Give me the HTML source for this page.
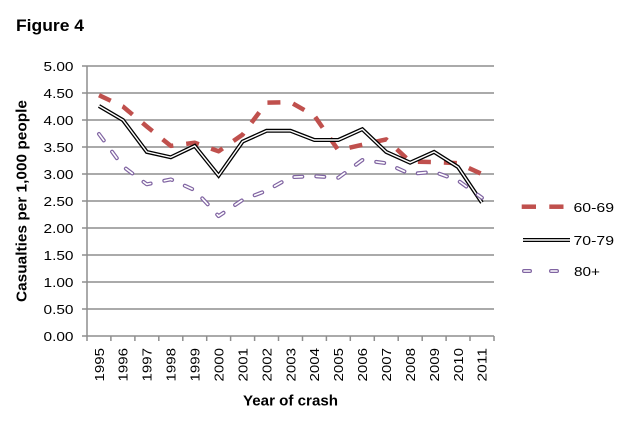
<!DOCTYPE html>
<html><head><meta charset="utf-8"><style>
html,body{margin:0;padding:0;background:#fff;}
svg{display:block;}
text{font-family:"Liberation Sans",sans-serif;fill:#000;}
</style></head><body>
<svg width="642" height="423" viewBox="0 0 642 423" xmlns="http://www.w3.org/2000/svg">
<rect width="642" height="423" fill="#fff"/>
<text x="16" y="31" font-size="17" font-weight="bold" textLength="68" lengthAdjust="spacingAndGlyphs">Figure 4</text>

<g stroke="#8e8e8e" stroke-width="1.5" fill="none">
<line x1="82" y1="66" x2="494" y2="66"/>
<line x1="82" y1="93" x2="494" y2="93"/>
<line x1="82" y1="120" x2="494" y2="120"/>
<line x1="82" y1="147" x2="494" y2="147"/>
<line x1="82" y1="174" x2="494" y2="174"/>
<line x1="82" y1="201" x2="494" y2="201"/>
<line x1="82" y1="228" x2="494" y2="228"/>
<line x1="82" y1="255" x2="494" y2="255"/>
<line x1="82" y1="282" x2="494" y2="282"/>
<line x1="82" y1="309" x2="494" y2="309"/>
<line x1="82" y1="336" x2="494" y2="336"/>
<line x1="87" y1="66" x2="87" y2="336"/>
<line x1="87" y1="336" x2="87" y2="341"/>
<line x1="110.9" y1="336" x2="110.9" y2="341"/>
<line x1="134.9" y1="336" x2="134.9" y2="341"/>
<line x1="158.8" y1="336" x2="158.8" y2="341"/>
<line x1="182.8" y1="336" x2="182.8" y2="341"/>
<line x1="206.7" y1="336" x2="206.7" y2="341"/>
<line x1="230.6" y1="336" x2="230.6" y2="341"/>
<line x1="254.6" y1="336" x2="254.6" y2="341"/>
<line x1="278.5" y1="336" x2="278.5" y2="341"/>
<line x1="302.5" y1="336" x2="302.5" y2="341"/>
<line x1="326.4" y1="336" x2="326.4" y2="341"/>
<line x1="350.3" y1="336" x2="350.3" y2="341"/>
<line x1="374.3" y1="336" x2="374.3" y2="341"/>
<line x1="398.2" y1="336" x2="398.2" y2="341"/>
<line x1="422.2" y1="336" x2="422.2" y2="341"/>
<line x1="446.1" y1="336" x2="446.1" y2="341"/>
<line x1="470.0" y1="336" x2="470.0" y2="341"/>
<line x1="494" y1="336" x2="494" y2="341"/>
</g>

<g font-size="13.2" text-anchor="end">
<text x="73.5" y="70.8" textLength="30" lengthAdjust="spacingAndGlyphs">5.00</text>
<text x="73.5" y="97.8" textLength="30" lengthAdjust="spacingAndGlyphs">4.50</text>
<text x="73.5" y="124.8" textLength="30" lengthAdjust="spacingAndGlyphs">4.00</text>
<text x="73.5" y="151.8" textLength="30" lengthAdjust="spacingAndGlyphs">3.50</text>
<text x="73.5" y="178.8" textLength="30" lengthAdjust="spacingAndGlyphs">3.00</text>
<text x="73.5" y="205.8" textLength="30" lengthAdjust="spacingAndGlyphs">2.50</text>
<text x="73.5" y="232.8" textLength="30" lengthAdjust="spacingAndGlyphs">2.00</text>
<text x="73.5" y="259.8" textLength="30" lengthAdjust="spacingAndGlyphs">1.50</text>
<text x="73.5" y="286.8" textLength="30" lengthAdjust="spacingAndGlyphs">1.00</text>
<text x="73.5" y="313.8" textLength="30" lengthAdjust="spacingAndGlyphs">0.50</text>
<text x="73.5" y="340.8" textLength="30" lengthAdjust="spacingAndGlyphs">0.00</text>
</g>

<g font-size="13.2" text-anchor="end">
<text transform="translate(103.8,348) rotate(-90)" textLength="33.5" lengthAdjust="spacingAndGlyphs">1995</text>
<text transform="translate(127.7,348) rotate(-90)" textLength="33.5" lengthAdjust="spacingAndGlyphs">1996</text>
<text transform="translate(151.6,348) rotate(-90)" textLength="33.5" lengthAdjust="spacingAndGlyphs">1997</text>
<text transform="translate(175.6,348) rotate(-90)" textLength="33.5" lengthAdjust="spacingAndGlyphs">1998</text>
<text transform="translate(199.5,348) rotate(-90)" textLength="33.5" lengthAdjust="spacingAndGlyphs">1999</text>
<text transform="translate(223.4,348) rotate(-90)" textLength="33.5" lengthAdjust="spacingAndGlyphs">2000</text>
<text transform="translate(247.4,348) rotate(-90)" textLength="33.5" lengthAdjust="spacingAndGlyphs">2001</text>
<text transform="translate(271.3,348) rotate(-90)" textLength="33.5" lengthAdjust="spacingAndGlyphs">2002</text>
<text transform="translate(295.3,348) rotate(-90)" textLength="33.5" lengthAdjust="spacingAndGlyphs">2003</text>
<text transform="translate(319.2,348) rotate(-90)" textLength="33.5" lengthAdjust="spacingAndGlyphs">2004</text>
<text transform="translate(343.1,348) rotate(-90)" textLength="33.5" lengthAdjust="spacingAndGlyphs">2005</text>
<text transform="translate(367.1,348) rotate(-90)" textLength="33.5" lengthAdjust="spacingAndGlyphs">2006</text>
<text transform="translate(391.0,348) rotate(-90)" textLength="33.5" lengthAdjust="spacingAndGlyphs">2007</text>
<text transform="translate(414.9,348) rotate(-90)" textLength="33.5" lengthAdjust="spacingAndGlyphs">2008</text>
<text transform="translate(438.9,348) rotate(-90)" textLength="33.5" lengthAdjust="spacingAndGlyphs">2009</text>
<text transform="translate(462.8,348) rotate(-90)" textLength="33.5" lengthAdjust="spacingAndGlyphs">2010</text>
<text transform="translate(486.7,348) rotate(-90)" textLength="33.5" lengthAdjust="spacingAndGlyphs">2011</text>
</g>

<text x="243" y="405.5" font-size="14.5" font-weight="bold" textLength="95" lengthAdjust="spacingAndGlyphs">Year of crash</text>
<text transform="translate(26.5,302) rotate(-90)" font-size="14.5" font-weight="bold" textLength="202" lengthAdjust="spacingAndGlyphs">Casualties per 1,000 people</text>

<!-- 60-69 -->
<polyline fill="none" stroke="#c0504d" stroke-width="4.5" stroke-dasharray="13 13" stroke-linejoin="round"
points="99.0,95.2 122.9,106.5 146.8,126.5 170.8,145.9 194.7,142.7 218.6,151.3 242.6,134.6 266.5,102.7 290.5,102.2 314.4,115.7 338.3,150.2 362.3,144.8 386.2,139.4 410.1,161.6 434.1,162.1 458.0,163.2 481.9,174.0"/>

<!-- 70-79 -->
<polyline fill="none" stroke="#000" stroke-width="4" stroke-linejoin="miter"
points="99.0,106.0 122.9,120.0 146.8,151.9 170.8,157.3 194.7,145.9 218.6,175.6 242.6,141.6 266.5,130.8 290.5,130.8 314.4,140.0 338.3,140.0 362.3,129.2 386.2,151.9 410.1,162.7 434.1,151.9 458.0,167.0 481.9,202.6"/>
<polyline fill="none" stroke="#fff" stroke-width="1.4" stroke-linejoin="miter"
points="99.0,106.0 122.9,120.0 146.8,151.9 170.8,157.3 194.7,145.9 218.6,175.6 242.6,141.6 266.5,130.8 290.5,130.8 314.4,140.0 338.3,140.0 362.3,129.2 386.2,151.9 410.1,162.7 434.1,151.9 458.0,167.0 481.9,202.6"/>

<!-- 80+ -->
<polyline fill="none" stroke="#8064a2" stroke-width="4" stroke-linecap="round" stroke-dasharray="8 14" stroke-linejoin="round"
points="99.0,134.0 122.9,166.4 146.8,184.3 170.8,179.4 194.7,190.2 218.6,216.1 242.6,199.9 266.5,190.7 290.5,177.2 314.4,176.2 338.3,177.8 362.3,160.0 386.2,163.2 410.1,174.0 434.1,171.8 458.0,180.5 481.9,197.8"/>
<polyline fill="none" stroke="#fff" stroke-width="1.6" stroke-linecap="round" stroke-dasharray="8 14" stroke-linejoin="round"
points="99.0,134.0 122.9,166.4 146.8,184.3 170.8,179.4 194.7,190.2 218.6,216.1 242.6,199.9 266.5,190.7 290.5,177.2 314.4,176.2 338.3,177.8 362.3,160.0 386.2,163.2 410.1,174.0 434.1,171.8 458.0,180.5 481.9,197.8"/>

<!-- legend -->
<line x1="521.7" y1="206.7" x2="536" y2="206.7" stroke="#c0504d" stroke-width="4.5"/>
<line x1="549.3" y1="206.7" x2="563.5" y2="206.7" stroke="#c0504d" stroke-width="4.5"/>
<line x1="523" y1="240" x2="570" y2="240" stroke="#000" stroke-width="4"/>
<line x1="523" y1="240" x2="570" y2="240" stroke="#fff" stroke-width="1.4"/>
<line x1="524" y1="271" x2="530" y2="271" stroke="#8064a2" stroke-width="4" stroke-linecap="round"/>
<line x1="524" y1="271" x2="530" y2="271" stroke="#fff" stroke-width="1.6" stroke-linecap="round"/>
<line x1="551" y1="271" x2="557" y2="271" stroke="#8064a2" stroke-width="4" stroke-linecap="round"/>
<line x1="551" y1="271" x2="557" y2="271" stroke="#fff" stroke-width="1.6" stroke-linecap="round"/>
<g font-size="13.2">
<text x="573.5" y="211.8" textLength="40.5" lengthAdjust="spacingAndGlyphs">60-69</text>
<text x="573.5" y="244.8" textLength="40.5" lengthAdjust="spacingAndGlyphs">70-79</text>
<text x="574" y="275.8" textLength="26" lengthAdjust="spacingAndGlyphs">80+</text>
</g>
</svg>
</body></html>
